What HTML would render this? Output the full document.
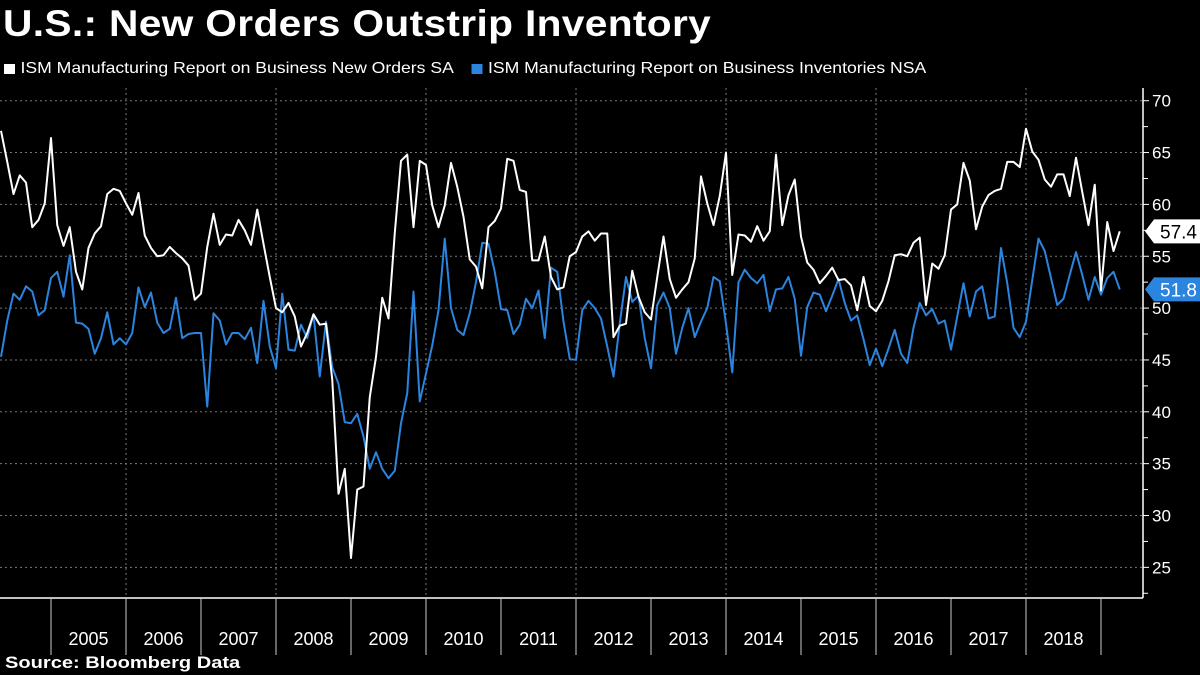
<!DOCTYPE html>
<html><head><meta charset="utf-8">
<style>
html,body{margin:0;padding:0;background:#000;}
body{width:1200px;height:675px;overflow:hidden;position:relative;font-family:"Liberation Sans","DejaVu Sans",sans-serif;color:#fff;}
#title{position:absolute;left:3px;top:3px;font-size:37px;font-weight:bold;letter-spacing:0.3px;transform-origin:0 0;transform:scaleX(1.1);white-space:nowrap;}
#legend{position:absolute;left:4px;top:60px;font-size:16px;display:flex;gap:16px;transform-origin:0 0;transform:scaleX(1.1);white-space:nowrap;}
.lg{display:flex;align-items:center;}
.sw{display:inline-block;width:10px;height:10px;margin-right:5px;}
#source{position:absolute;left:5px;top:653px;font-size:17px;font-weight:bold;transform-origin:0 0;transform:scaleX(1.18);white-space:nowrap;}
svg{position:absolute;left:0;top:0;}
</style></head><body>
<div id="title">U.S.: New Orders Outstrip Inventory</div>
<div id="legend">
 <div class="lg"><span class="sw" style="background:#fff"></span>ISM Manufacturing Report on Business New Orders SA</div>
 <div class="lg"><span class="sw" style="background:#2b84de"></span>ISM Manufacturing Report on Business Inventories NSA</div>
</div>
<svg id="chart" width="1200" height="675"></svg>
<div id="source">Source: Bloomberg Data</div>
<script>
const years=[2005,2006,2007,2008,2009,2010,2011,2012,2013,2014,2015,2016,2017,2018];
const yTicks=[25,30,35,40,45,50,55,60,65,70];
const newOrders=[67.1,64.1,61.0,62.8,62.1,57.8,58.5,60.1,66.4,58.0,56.0,57.8,53.5,51.8,55.8,57.2,57.9,61.0,61.5,61.3,60.1,59.0,61.1,57.0,55.8,55.0,55.1,55.9,55.3,54.8,54.1,50.8,51.4,55.9,59.1,56.1,57.1,57.0,58.5,57.5,56.1,59.5,56.2,53.0,50.0,49.6,50.5,49.2,46.3,47.6,49.4,48.4,48.5,43.1,32.1,34.5,25.9,32.5,32.8,41.4,45.3,51.0,49.0,57.2,64.2,64.8,57.8,64.2,63.8,59.9,57.8,59.9,64.0,61.7,58.8,54.7,54.0,51.9,57.8,58.4,59.6,64.4,64.2,61.4,61.2,54.6,54.6,56.9,53.0,51.8,52.0,55.0,55.4,56.9,57.4,56.5,57.2,57.2,47.2,48.3,48.5,53.6,51.1,49.6,48.9,53.0,56.9,52.8,51.0,51.8,52.5,54.8,62.7,60.1,58.0,60.8,65.0,53.2,57.1,57.0,56.4,57.9,56.5,57.4,64.8,58.0,60.9,62.4,56.9,54.4,53.7,52.4,53.1,53.9,52.7,52.8,52.2,49.8,53.0,50.2,49.7,50.7,52.6,55.1,55.2,55.0,56.3,56.8,50.3,54.3,53.8,55.1,59.5,60.0,64.0,62.3,57.6,59.8,60.9,61.3,61.5,64.1,64.1,63.6,67.3,65.1,64.3,62.4,61.7,62.9,62.9,60.8,64.5,61.2,58.0,61.9,51.7,58.3,55.5,57.4];
const inventories=[45.3,48.8,51.4,50.8,52.1,51.6,49.3,49.8,52.9,53.5,51.1,55.1,48.6,48.5,48.0,45.6,47.1,49.6,46.5,47.1,46.5,47.6,52.0,50.1,51.5,48.6,47.6,48.0,51.0,47.1,47.5,47.6,47.6,40.5,49.5,48.8,46.5,47.6,47.6,47.0,48.1,44.7,50.7,46.3,44.2,51.4,46.0,45.9,48.4,47.1,49.4,43.4,48.7,44.3,42.7,39.0,38.9,39.8,37.6,34.5,36.1,34.5,33.6,34.3,38.9,41.8,51.6,41.0,43.7,46.4,49.8,56.7,50.0,47.9,47.4,49.5,52.5,56.3,56.2,53.5,49.9,49.8,47.5,48.4,50.9,50.0,51.7,47.1,53.9,53.5,48.7,45.1,45.0,49.8,50.7,50.0,49.0,46.3,43.4,48.5,53.0,50.6,51.2,47.1,44.2,50.3,51.5,50.0,45.6,48.1,50.0,47.2,48.7,50.0,53.0,52.6,48.5,43.8,52.5,53.7,52.9,52.4,53.2,49.7,51.8,51.9,53.0,50.9,45.4,50.1,51.5,51.3,49.7,51.2,52.8,50.5,48.8,49.3,47.0,44.5,46.1,44.4,46.1,47.9,45.6,44.7,48.1,50.5,49.3,49.9,48.5,48.8,46.0,49.2,52.4,49.2,51.6,52.1,49.0,49.2,55.8,52.4,48.1,47.2,48.7,52.7,56.7,55.5,52.9,50.3,50.9,53.2,55.4,53.2,50.8,53.0,51.3,52.9,53.5,51.8];

const NS='http://www.w3.org/2000/svg';
const svg=document.getElementById('chart');
const AX=1143, TOP=88, BOT=598;
function yS(v){return 100.7+(70-v)*10.37;}
function xI(i){return 1+i*6.25;}
function xYear(y){return 51+(y-2005)*75;}
function mk(tag,attrs,parent){const e=document.createElementNS(NS,tag);for(const k in attrs)e.setAttribute(k,attrs[k]);(parent||svg).appendChild(e);return e;}

const grid=mk('g',{});


yTicks.forEach(v=>{
  const l=mk('line',{x1:0,x2:AX,y1:yS(v),y2:yS(v),stroke:'#777','stroke-width':1,'stroke-dasharray':'2,3'},grid);
  
  
});
years.forEach(y=>{
  if((y-2006)%2===0){
    const l=mk('line',{x1:xYear(y),x2:xYear(y),y1:TOP,y2:BOT,stroke:'#777','stroke-width':1,'stroke-dasharray':'2,3'},grid);
    
    
  }
});

const ax=mk('g',{});


mk('line',{x1:AX,x2:AX,y1:TOP,y2:BOT,stroke:'#fff','stroke-width':1.5},ax);
mk('line',{x1:0,x2:AX,y1:BOT,y2:BOT,stroke:'#fff','stroke-width':1.5},ax);
for(let v=22.5;v<=70.1;v+=2.5){mk('line',{x1:AX,x2:AX+(v%5===0?6:5),y1:yS(v),y2:yS(v),stroke:'#fff','stroke-width':1},ax);}
yTicks.forEach(v=>{
  const t=mk('text',{x:AX+9,y:yS(v)+6,fill:'#fff','font-size':17},ax);
  t.textContent=v;
  
  
});
years.concat([2019]).forEach(y=>{mk('line',{x1:xYear(y),x2:xYear(y),y1:BOT,y2:655,stroke:'#ccc','stroke-width':1},ax);});
years.forEach(y=>{
  const t=mk('text',{x:xYear(y)+37.5,y:645,fill:'#fff','font-size':18,'text-anchor':'middle'},ax);
  t.textContent=y;
  
  
});

function series(data,color,name){
  const p=mk('polyline',{points:data.map((v,i)=>xI(i).toFixed(2)+','+yS(v).toFixed(2)).join(' '),fill:'none',stroke:color,'stroke-width':2,'stroke-linejoin':'round'});
  
  
}
series(inventories,'#2b84de','inventories-line');
series(newOrders,'#ffffff','new-orders-line');

function tag(v,bg,fg,name){
  const g=mk('g',{});
  
  
  const y=yS(v);
  mk('path',{d:`M${AX+2},${y} L${AX+11},${y-12} L1200,${y-12} L1200,${y+12} L${AX+11},${y+12} Z`,fill:bg},g);
  const t=mk('text',{x:1197,y:y+7,fill:fg,'font-size':19,'text-anchor':'end'},g);
  t.textContent=v.toFixed(1);
}
tag(newOrders[newOrders.length-1],'#fff','#000','last-value-new-orders');
tag(inventories[inventories.length-1],'#2b84de','#fff','last-value-inventories');
</script>
</body></html>
